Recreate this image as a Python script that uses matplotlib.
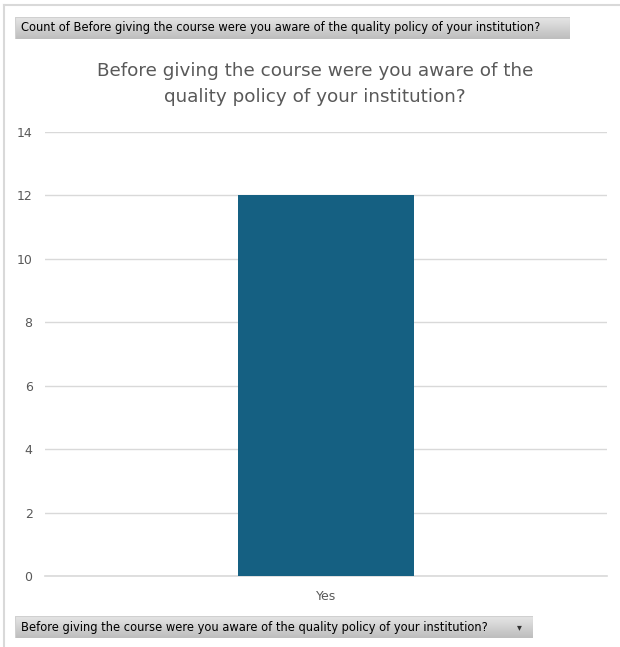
import numpy as np
import matplotlib.pyplot as plt
from matplotlib.patches import Rectangle
from matplotlib.lines import Line2D

categories = ['Yes']
counts = [12]
yticks = [0, 2, 4, 6, 8, 10, 12, 14]

question = 'Before giving the course were you aware of the quality policy of your institution?'
title = 'Before giving the course were you aware of the\nquality policy of your institution?'

W, H = 620, 647
fig = plt.figure(figsize=(W / 100, H / 100), dpi=100)
fig.patch.set_facecolor('white')

# outer frame lines
fig.add_artist(Line2D([4 / W, 1], [1 - 5 / H] * 2, color='#d9d9d9', lw=1.5))
fig.add_artist(Line2D([4 / W] * 2, [0, 1 - 5 / H], color='#d9d9d9', lw=1.5))


def button(x0, y0, x1, y1, text, arrow=False):
    # grey gradient field button like in Excel pivot charts
    grad = np.linspace(0, 1, 50).reshape(-1, 1)
    bx = fig.add_axes([x0 / W, 1 - y1 / H, (x1 - x0) / W, (y1 - y0) / H])
    bx.imshow(grad, cmap=plt.matplotlib.colors.LinearSegmentedColormap.from_list(
        'g', ['#e6e6e6', '#bdbdbd']), aspect='auto', extent=[0, 1, 0, 1], origin='upper')
    bx.set_xlim(0, 1)
    bx.set_ylim(0, 1)
    bx.axis('off')
    bx.add_patch(Rectangle((0, 0), 1, 1, fill=False, ec='#d0d0d0', lw=0.8,
                           transform=bx.transAxes))
    fig.text((x0 + 6) / W, 1 - ((y0 + y1) / 2) / H, text, fontsize=8.3,
             family='Liberation Sans Narrow', color='#000000', va='center', ha='left')
    if arrow:
        fig.text((x1 - 14) / W, 1 - ((y0 + y1) / 2) / H, '\u25BE', fontsize=7,
                 color='#333333', va='center', ha='center')


button(15, 17, 570, 39, 'Count of ' + question)
button(15, 616, 533, 638, question, arrow=True)

ax = fig.add_axes([45 / W, 1 - 576 / H, (607 - 45) / W, (576 - 132) / H])
x = np.arange(len(categories))
ax.bar(x, counts, width=0.314, color='#156082', zorder=3)
ax.set_xlim(-0.5, 0.5)
ax.set_ylim(0, 14)
ax.set_yticks(yticks)
ax.set_xticks(x)
ax.set_xticklabels(categories)
ax.grid(axis='y', color='#d9d9d9', lw=1, zorder=0)
ax.axhline(0, color='#d9d9d9', lw=1.2, zorder=2, clip_on=False)
for s in ax.spines.values():
    s.set_visible(False)
ax.tick_params(axis='both', length=0, labelsize=9, labelcolor='#595959')
ax.tick_params(axis='y', pad=9)
ax.tick_params(axis='x', pad=10)

fig.text(315 / W, 1 - 84 / H, title, ha='center', va='center', fontsize=13.2,
         color='#595959', linespacing=1.55)

plt.savefig('out.png', dpi=100)
